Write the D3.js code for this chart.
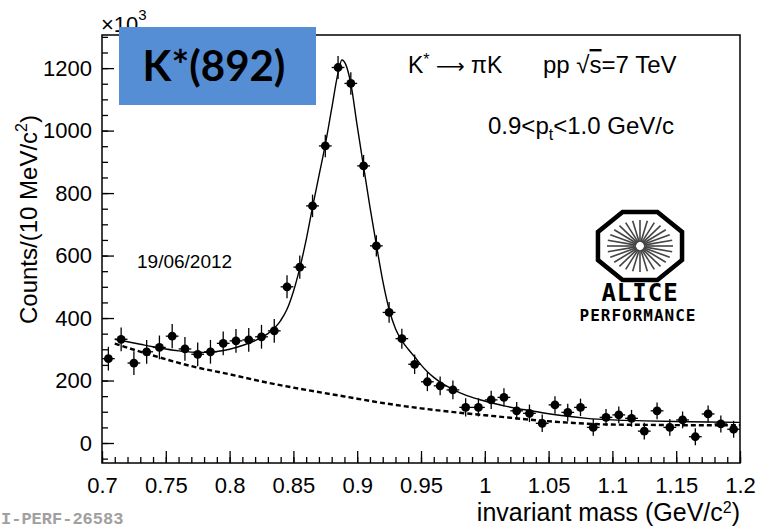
<!DOCTYPE html>
<html>
<head>
<meta charset="utf-8">
<script src="https://cdn.jsdelivr.net/npm/d3@7"></script>
<style>
  body { margin: 0; background: #fff; }
  svg { display: block; font-family: "Liberation Sans", Arial, sans-serif; }
</style>
</head>
<body>
<div id="chart-area"></div>
<script>
// K*(892) invariant mass spectrum, pp 7 TeV, 0.9<pt<1.0 GeV/c

// bin centres (GeV/c^2) and counts (x10^3)
let massBins = [0.705, 0.715, 0.725, 0.735, 0.745, 0.755, 0.765, 0.775, 0.785, 0.795,
                0.805, 0.815, 0.825, 0.835, 0.845, 0.855, 0.865, 0.875, 0.885, 0.895,
                0.905, 0.915, 0.925, 0.935, 0.945, 0.955, 0.965, 0.975, 0.985, 0.995,
                1.005, 1.015, 1.025, 1.035, 1.045, 1.055, 1.065, 1.075, 1.085, 1.095,
                1.105, 1.115, 1.125, 1.135, 1.145, 1.155, 1.165, 1.175, 1.185, 1.195];
let counts = [270, 332, 256, 292, 306, 342, 301, 284, 292, 319,
              327, 330, 340, 359, 500, 563, 759, 951, 1202, 1151,
              887, 631, 418, 334, 252, 196, 183, 170, 114, 114,
              138, 146, 103, 95, 63, 122, 98, 114, 50, 82,
              90, 79, 38, 103, 50, 74, 20, 93, 61, 44];
let errors = [38, 38, 38, 38, 38, 39, 38, 38, 38, 38,
              38, 38, 38, 38, 37, 37, 36, 36, 37, 36,
              35, 34, 33, 32, 31, 30, 30, 30, 29, 29,
              29, 29, 28, 28, 28, 28, 28, 28, 27, 27,
              27, 27, 27, 27, 27, 27, 27, 27, 27, 27];
let binHalfWidth = 0.005;

// total fit (solid)
let fitMass = [0.71, 0.72, 0.73, 0.74, 0.75, 0.76, 0.77, 0.78, 0.79, 0.80,
               0.81, 0.82, 0.83, 0.84, 0.845, 0.85, 0.855, 0.86, 0.865, 0.87,
               0.875, 0.88, 0.885, 0.888, 0.891, 0.895, 0.90, 0.905, 0.91, 0.915,
               0.92, 0.925, 0.93, 0.935, 0.94, 0.945, 0.95, 0.955, 0.96, 0.965,
               0.975, 0.985, 0.995, 1.005, 1.015, 1.025, 1.035, 1.045, 1.06, 1.08,
               1.10, 1.125, 1.15, 1.175, 1.20];
let fitTotal = [332, 324, 316, 308, 301, 295, 291, 290, 293, 300,
                312, 328, 350, 392, 428, 485, 560, 650, 755, 855,
                955, 1070, 1185, 1226, 1212, 1150, 1015, 885, 755, 635,
                520, 428, 366, 328, 300, 276, 250, 228, 210, 195,
                172, 153, 140, 129, 119, 111, 104, 97, 88, 79,
                74, 71, 69, 67, 66];

// residual background (dashed)
let bgMass = [0.71, 0.74, 0.77, 0.80, 0.83, 0.86, 0.89, 0.92, 0.95, 0.98,
              1.01, 1.04, 1.07, 1.10, 1.13, 1.16, 1.20];
let bgValues = [318, 280, 246, 220, 193, 170, 149, 128, 111, 97,
                85, 73, 64, 59, 58, 57, 57];

// tick labels
let xTickValues = [0.7, 0.75, 0.8, 0.85, 0.9, 0.95, 1, 1.05, 1.1, 1.15, 1.2];
let yTickValues = [0, 200, 400, 600, 800, 1000, 1200];

let points = massBins.map((m, i) => ({mass: m, count: counts[i], err: errors[i]}));
let fitData = fitMass.map((m, i) => ({mass: m, v: fitTotal[i]}));
let bgData = bgMass.map((m, i) => ({mass: m, v: bgValues[i]}));

let W = 759, H = 529;
let frame = {left: 102, right: 740, top: 35, bottom: 463};

let svg = d3.select("#chart-area").append("svg")
    .attr("width", W)
    .attr("height", H);

let xScale = d3.scaleLinear().domain([0.7, 1.2]).range([frame.left, frame.right]);
let yScale = d3.scaleLinear().domain([-64, 1306]).range([frame.bottom, frame.top]);

// frame
svg.append("rect")
    .attr("x", frame.left).attr("y", frame.top)
    .attr("width", frame.right - frame.left)
    .attr("height", frame.bottom - frame.top)
    .attr("fill", "none")
    .attr("stroke", "#000")
    .attr("stroke-width", 1.5);

// minor ticks
let xMinor = d3.range(0, 51).map(i => 0.7 + i * 0.01);
let yMinor = d3.range(-50, 1301, 50);

svg.append("g")
    .attr("transform", "translate(0," + frame.bottom + ")")
    .call(d3.axisBottom(xScale).tickValues(xMinor).tickSize(-6).tickFormat(""))
    .call(g => g.select(".domain").remove())
    .selectAll("line").attr("stroke-width", 1.3);

svg.append("g")
    .attr("transform", "translate(" + frame.left + ",0)")
    .call(d3.axisLeft(yScale).tickValues(yMinor).tickSize(-6).tickFormat(""))
    .call(g => g.select(".domain").remove())
    .selectAll("line").attr("stroke-width", 1.3);

// major ticks + labels
let xAxis = svg.append("g")
    .attr("transform", "translate(0," + frame.bottom + ")")
    .call(d3.axisBottom(xScale).tickValues(xTickValues).tickSize(-12).tickPadding(14)
        .tickFormat(d => String(+d.toFixed(2))));
xAxis.select(".domain").remove();
xAxis.selectAll("line").attr("stroke-width", 1.3);
xAxis.selectAll("text")
    .attr("font-family", "Liberation Sans, Arial, sans-serif")
    .attr("font-size", 22)
    .attr("fill", "#000");

let yAxis = svg.append("g")
    .attr("transform", "translate(" + frame.left + ",0)")
    .call(d3.axisLeft(yScale).tickValues(yTickValues).tickSize(-12).tickPadding(10)
        .tickFormat(d => String(d)));
yAxis.select(".domain").remove();
yAxis.selectAll("line").attr("stroke-width", 1.3);
yAxis.selectAll("text")
    .attr("font-family", "Liberation Sans, Arial, sans-serif")
    .attr("font-size", 22)
    .attr("fill", "#000");

// x10^3
let expo = svg.append("text")
    .attr("x", 101).attr("y", 32)
    .attr("font-size", 22);
expo.append("tspan").text("\u00d710");
expo.append("tspan").attr("font-size", 15).attr("dy", -12).text("3");

// axis titles
svg.append("text")
    .attr("transform", "translate(37,115) rotate(-90)")
    .attr("text-anchor", "end")
    .attr("font-size", 24)
    .call(t => {
        t.append("tspan").text("Counts/(10 MeV/c");
        t.append("tspan").attr("font-size", 16).attr("dy", -10).text("2");
        t.append("tspan").attr("dy", 10).text(")");
    });

svg.append("text")
    .attr("x", 740).attr("y", 521)
    .attr("text-anchor", "end")
    .attr("font-size", 25)
    .call(t => {
        t.append("tspan").text("invariant mass (GeV/c");
        t.append("tspan").attr("font-size", 16).attr("dy", -8).text("2");
        t.append("tspan").attr("dy", 8).text(")");
    });

// background fit (dashed)
let line = d3.line()
    .x(d => xScale(d.mass))
    .y(d => yScale(d.v))
    .curve(d3.curveMonotoneX);

svg.append("path")
    .datum(bgData)
    .attr("d", line)
    .attr("fill", "none")
    .attr("stroke", "#000")
    .attr("stroke-width", 2.4)
    .attr("stroke-dasharray", "5,3");

// total fit (solid)
svg.append("path")
    .datum(fitData)
    .attr("d", line)
    .attr("fill", "none")
    .attr("stroke", "#000")
    .attr("stroke-width", 1.4);

// data points with error bars
let pts = svg.append("g").selectAll("g")
    .data(points)
    .join("g");

pts.append("line")
    .attr("x1", d => xScale(d.mass)).attr("x2", d => xScale(d.mass))
    .attr("y1", d => yScale(d.count - d.err)).attr("y2", d => yScale(d.count + d.err))
    .attr("stroke", "#000").attr("stroke-width", 1.3);

pts.append("line")
    .attr("x1", d => xScale(d.mass - binHalfWidth)).attr("x2", d => xScale(d.mass + binHalfWidth))
    .attr("y1", d => yScale(d.count)).attr("y2", d => yScale(d.count))
    .attr("stroke", "#000").attr("stroke-width", 1.3);

pts.append("circle")
    .attr("cx", d => xScale(d.mass))
    .attr("cy", d => yScale(d.count))
    .attr("r", 4.4)
    .attr("fill", "#000");

// labels inside the frame
svg.append("text")
    .attr("x", 137).attr("y", 268)
    .attr("font-size", 19)
    .text("19/06/2012");

let l1 = svg.append("text")
    .attr("x", 408).attr("y", 73)
    .attr("font-size", 23);
l1.append("tspan").text("K");
l1.append("tspan").attr("font-size", 16).attr("dy", -8).text("*");
l1.append("tspan").attr("dy", 8).text(" ");
l1.append("tspan").attr("font-family", "DejaVu Sans, sans-serif").attr("font-size", 20).text("\u27f6");
l1.append("tspan").text(" \u03c0K");

let l2 = svg.append("text")
    .attr("x", 543).attr("y", 73)
    .attr("font-size", 24);
l2.append("tspan").text("pp \u221a");
l2.append("tspan").style("text-decoration", "overline").text("s");
l2.append("tspan").text("=7 TeV");

let l3 = svg.append("text")
    .attr("x", 488).attr("y", 134)
    .attr("font-size", 24);
l3.append("tspan").text("0.9<p");
l3.append("tspan").attr("font-size", 16).attr("dy", 6).text("t");
l3.append("tspan").attr("dy", -6).text("<1.0 GeV/c");

// ALICE performance logo
let logo = svg.append("g").attr("transform", "translate(640,246)");
let octagon = d3.range(8).map(k => {
    let a = Math.PI / 8 + k * Math.PI / 4;
    return [45.5 * Math.cos(a), 36.8 * Math.sin(a)];
});
logo.append("path")
    .attr("d", d3.line()(octagon) + "Z")
    .attr("fill", "none")
    .attr("stroke", "#000")
    .attr("stroke-width", 4.5)
    .attr("stroke-linejoin", "miter");
logo.selectAll("line.ray")
    .data(d3.range(28))
    .join("line")
    .attr("class", "ray")
    .attr("x1", k => 4 * Math.cos(k * Math.PI / 14))
    .attr("y1", k => 4 * Math.sin(k * Math.PI / 14))
    .attr("x2", k => 33 * Math.cos(k * Math.PI / 14))
    .attr("y2", k => 26 * Math.sin(k * Math.PI / 14))
    .attr("stroke", "#444")
    .attr("stroke-width", 1.6);

svg.append("text")
    .attr("x", 640).attr("y", 301)
    .attr("text-anchor", "middle")
    .attr("font-family", "DejaVu Sans Mono, monospace")
    .attr("font-weight", "bold")
    .attr("font-size", 24)
    .attr("letter-spacing", 1)
    .text("ALICE");

svg.append("text")
    .attr("x", 638).attr("y", 321)
    .attr("text-anchor", "middle")
    .attr("font-family", "DejaVu Sans Mono, monospace")
    .attr("font-weight", "bold")
    .attr("font-size", 16)
    .attr("letter-spacing", 1)
    .text("PERFORMANCE");

// figure id (left part cut in the source)
svg.append("text")
    .attr("x", 1).attr("y", 524)
    .attr("font-family", "Liberation Mono, monospace")
    .attr("font-weight", "bold")
    .attr("font-size", 17)
    .attr("fill", "#a0a0a0")
    .text("I-PERF-26583");

// slide label box
svg.append("rect")
    .attr("x", 119).attr("y", 27)
    .attr("width", 197).attr("height", 78)
    .attr("fill", "#558ed5");

svg.append("text")
    .attr("x", 214).attr("y", 81)
    .attr("text-anchor", "middle")
    .attr("font-family", "Lato, Open Sans, sans-serif")
    .attr("font-weight", "bold")
    .attr("font-size", 42)
    .attr("fill", "#000")
    .text("K*(892)");
</script>
</body>
</html>
